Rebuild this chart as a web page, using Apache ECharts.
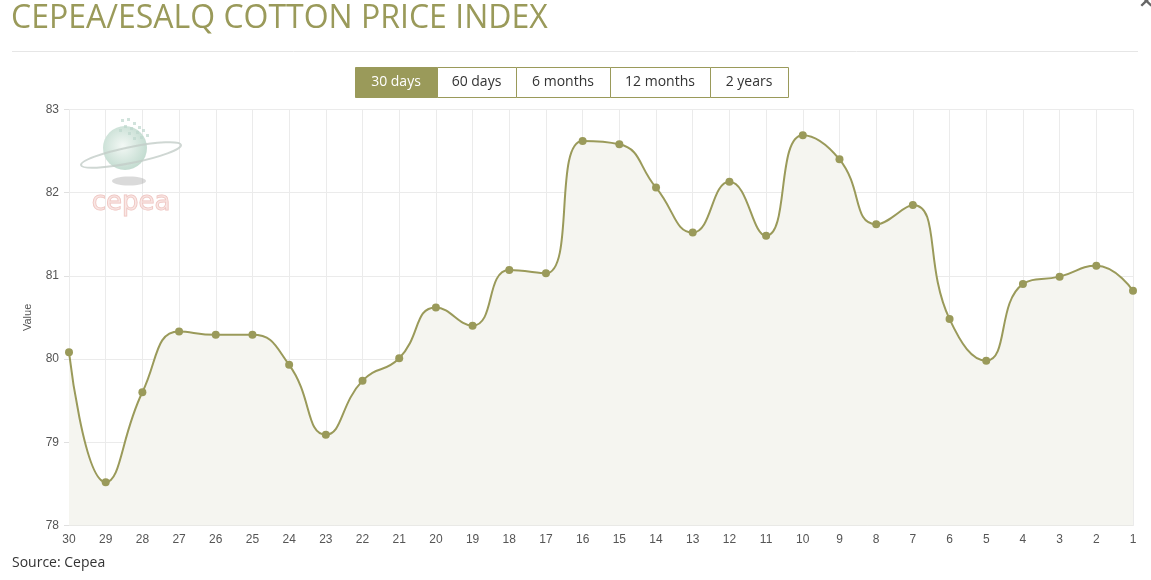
<!DOCTYPE html>
<html>
<head>
<meta charset="utf-8">
<script src="https://cdn.jsdelivr.net/npm/echarts@6/dist/echarts.min.js"></script>
<style>
html,body{margin:0;padding:0;background:#fff;}
#c{width:1151px;height:580px;}
</style>
</head>
<body>
<div id="c"></div>
<script>
var categories = ['30','29','28','27','26','25','24','23','22','21','20','19','18','17','16','15','14','13','12','11','10','9','8','7','6','5','4','3','2','1'];
var values = [80.08,78.52,79.60,80.33,80.29,80.29,79.93,79.09,79.74,80.01,80.62,80.40,81.07,81.03,82.62,82.58,82.06,81.52,82.13,81.48,82.69,82.40,81.62,81.85,80.48,79.98,80.90,80.99,81.12,80.82];
var yTicks = {min:78, max:83, interval:1};
var rangeButtons = ['30 days','60 days','6 months','12 months','2 years'];

var olive = '#9a9a5a';
var chart = echarts.init(document.getElementById('c'), null, {renderer:'canvas'});

var btnX = [355,437,516,610,710,788];
var buttons = [];
rangeButtons.forEach(function(t,i){
  var active = i===0;
  buttons.push({
    type:'rect', shape:{x:btnX[i]+0.5,y:67.5,width:btnX[i+1]-btnX[i],height:30},
    style:{fill: active?olive:'#fff', stroke: olive, lineWidth:1}, z:10
  });
  buttons.push({
    type:'text', x:(btnX[i]+btnX[i+1])/2, y:82.5,
    style:{text:t, fill: active?'#fff':'#333', font:'14px "Open Sans"', align:'center', verticalAlign:'middle'}, z:11
  });
});

var logo = [
  {type:'ellipse', shape:{cx:129,cy:181,rx:17,ry:4.5}, style:{fill:'rgba(150,150,150,0.35)'}, z:1},
  {type:'circle', shape:{cx:125,cy:148,r:22},
    style:{fill:new echarts.graphic.RadialGradient(0.45,0.45,0.7,[{offset:0,color:'#f3f8f5'},{offset:1,color:'#b7d5c7'}])}, z:1},
  {type:'ellipse', shape:{cx:131,cy:155,rx:51,ry:8}, rotation:0.2, originX:131, originY:155,
    style:{fill:'none', stroke:'rgba(195,205,200,0.8)', lineWidth:2}, z:2},
  {type:'text', x:131, y:203, style:{text:'cepea', fill:'rgba(245,215,212,0.6)', stroke:'#eec3bf', lineWidth:1, font:'26px "DejaVu Sans"', align:'center', verticalAlign:'middle'}, z:1}
];
var dots = [[121,119],[127,118],[133,122],[138,126],[124,125],[130,127],[136,131],[142,129],[128,132],[146,134],[119,129],[140,136],[133,137]];
dots.forEach(function(d){ logo.push({type:'rect', shape:{x:d[0],y:d[1],width:3,height:3}, style:{fill:'rgba(190,215,205,0.7)'}, z:1}); });

chart.setOption({
  animation:false,
  backgroundColor:'#fff',
  grid:{left:69, right:18, top:109.4, bottom:54.6, containLabel:false},
  xAxis:{
    type:'category', data:categories, boundaryGap:false,
    axisLine:{show:true, lineStyle:{color:'#dcdcdc'}},
    axisTick:{show:false},
    axisLabel:{color:'#555', fontSize:12, fontFamily:'Arial', margin:8, interval:0},
    splitLine:{show:true, lineStyle:{color:'#ebebeb'}}
  },
  yAxis:{
    type:'value', min:yTicks.min, max:yTicks.max, interval:yTicks.interval,
    name:'Value', nameLocation:'middle', nameGap:36, nameRotate:90,
    nameTextStyle:{color:'#555', fontSize:11, fontFamily:'Arial'},
    axisLine:{show:false},
    axisTick:{show:true, length:5, lineStyle:{color:'#e0e0e0'}},
    axisLabel:{color:'#555', fontSize:12, fontFamily:'Arial', margin:10},
    splitLine:{show:true, lineStyle:{color:'#ebebeb'}}
  },
  series:[{
    type:'line', data:values, smooth:0.5,
    symbol:'circle', symbolSize:8,
    itemStyle:{color:olive},
    lineStyle:{color:olive, width:2},
    areaStyle:{color:'#f5f5f0', opacity:1},
    z:5
  }],
  graphic:[
    {type:'text', left:11, top:3, style:{text:'CEPEA/ESALQ COTTON PRICE INDEX', fill:olive, font:'32px "Open Sans"'}},
    {type:'line', shape:{x1:12,y1:51.5,x2:1138,y2:51.5}, style:{stroke:'#e6e6e6', lineWidth:1}},
    {type:'text', left:1138, top:-8, style:{text:'×', fill:'#666', font:'bold 20px "DejaVu Sans"'}},
    {type:'text', left:12, top:556, style:{text:'Source: Cepea', fill:'#333', font:'14px "Open Sans"'}}
  ].concat(buttons).concat(logo)
});
</script>
</body>
</html>
